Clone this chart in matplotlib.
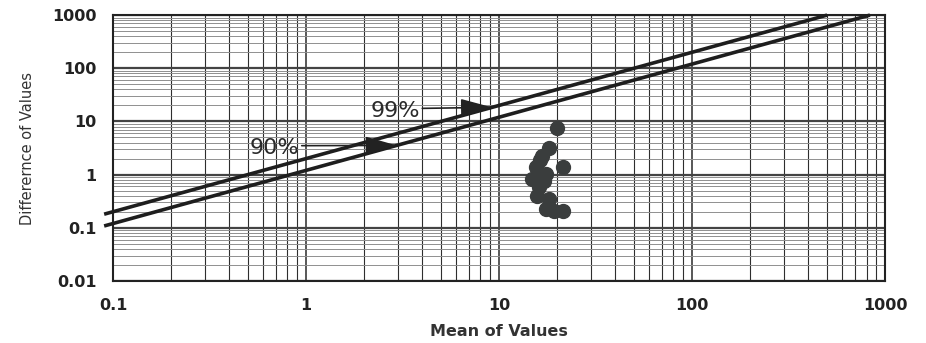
import numpy as np
import matplotlib.pyplot as plt
from matplotlib.ticker import LogLocator, FixedFormatter, FixedLocator, NullFormatter

# measured pairs (mean, difference)
mean_vals = [20.0, 18.1, 16.7, 15.5, 21.5, 14.8, 17.5, 16.1, 15.7, 18.1, 17.5, 19.2, 21.5, 16.2, 17.0]
diff_vals = [7.4, 3.1, 2.2, 1.4, 1.4, 0.84, 1.04, 0.59, 0.40, 0.35, 0.23, 0.21, 0.21, 1.9, 0.75]

# confidence limits: difference = factor * mean
limit_90 = 1.2
limit_99 = 2.0

x_ticks = [0.1, 1, 10, 100, 1000]
x_labels = ['0.1', '1', '10', '100', '1000']
y_ticks = [0.01, 0.1, 1, 10, 100, 1000]
y_labels = ['0.01', '0.1', '1', '10', '100', '1000']

fig = plt.figure(figsize=(9.26, 3.43), dpi=100)
ax = fig.add_axes([0.122, 0.181, 0.834, 0.775])
ax.set_xscale('log')
ax.set_yscale('log')
ax.set_xlim(0.1, 1000)
ax.set_ylim(0.01, 1000)

ax.xaxis.set_major_locator(FixedLocator(x_ticks))
ax.xaxis.set_major_formatter(FixedFormatter(x_labels))
ax.yaxis.set_major_locator(FixedLocator(y_ticks))
ax.yaxis.set_major_formatter(FixedFormatter(y_labels))
ax.xaxis.set_minor_locator(LogLocator(base=10, subs=np.arange(2, 10), numticks=20))
ax.yaxis.set_minor_locator(LogLocator(base=10, subs=np.arange(2, 10), numticks=20))
ax.xaxis.set_minor_formatter(NullFormatter())
ax.yaxis.set_minor_formatter(NullFormatter())

ax.grid(which='major', axis='x', color='#2a2a2a', lw=1.1)
ax.grid(which='minor', axis='x', color='#2e2e2e', lw=0.8)
ax.grid(which='major', axis='y', color='#444444', lw=1.6)
ax.grid(which='minor', axis='y', color='#8f8f8f', lw=0.7)
ax.set_axisbelow(True)
ax.tick_params(which='both', length=0)
ax.tick_params(axis='x', pad=12)
ax.tick_params(axis='y', pad=12)
for lab in ax.get_xticklabels() + ax.get_yticklabels():
    lab.set_fontfamily('DejaVu Sans')
    lab.set_fontweight('bold')
    lab.set_fontsize(11.5)
    lab.set_color('#222222')
for sp in ax.spines.values():
    sp.set_linewidth(1.5)
    sp.set_color('#222222')

# limit lines, running a little past the left edge
for k in (limit_90, limit_99):
    m = np.array([0.09, 1000.0 / k])
    ax.plot(m, k * m, color='#1e1e1e', lw=2.6, clip_on=False,
            solid_capstyle='butt', zorder=3)

ax.plot(mean_vals, diff_vals, 'o', color='#3a3d3d', markersize=10, zorder=4)

arrow = dict(arrowstyle='-|>,head_length=1.4,head_width=0.4', color='#222222',
             lw=1.2, mutation_scale=14, shrinkA=0, shrinkB=0)
ax.text(0.92, 3.1, '90%', ha='right', va='center', fontsize=16,
        fontfamily='DejaVu Sans', color='#2a2a2a', zorder=5)
ax.annotate('', xy=(2.95, limit_90 * 2.95), xytext=(0.95, 3.5), arrowprops=arrow, zorder=5)
ax.text(3.9, 15.4, '99%', ha='right', va='center', fontsize=16,
        fontfamily='DejaVu Sans', color='#2a2a2a', zorder=5)
ax.annotate('', xy=(9.2, limit_99 * 9.2), xytext=(4.0, 17.6), arrowprops=arrow, zorder=5)

ax.set_xlabel('Mean of Values', fontfamily='DejaVu Sans', fontweight='bold',
              fontsize=11.5, color='#333333', labelpad=8)
ax.set_ylabel('Differernce of Values', fontfamily='DejaVu Sans', fontsize=10.5,
              color='#333333', labelpad=12)

fig.savefig('out.png', dpi=100)
